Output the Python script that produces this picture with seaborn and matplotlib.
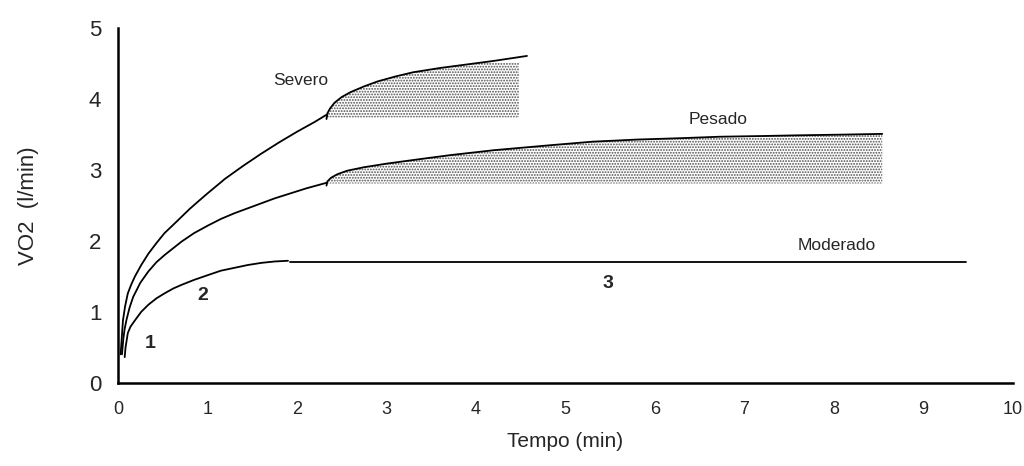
import pandas as pd
import seaborn as sns
from matplotlib import pyplot as plt

# curva de subida (fase 1-2)
sev_x = [0.03, 0.045, 0.056, 0.08, 0.11, 0.15, 0.19, 0.26, 0.34, 0.43, 0.52, 0.62, 0.71, 0.8, 0.89,
         1.0, 1.2, 1.4, 1.6, 1.8, 2.0, 2.2, 2.33]
sev_y = [0.40, 0.68, 0.88, 1.08, 1.26, 1.39, 1.50, 1.66, 1.82, 1.97, 2.11, 2.23, 2.34, 2.45, 2.55,
         2.67, 2.88, 3.06, 3.23, 3.39, 3.54, 3.68, 3.78]
pes_x = [0.045, 0.06, 0.075, 0.094, 0.13, 0.17, 0.25, 0.34, 0.43, 0.52, 0.62, 0.71, 0.85,
         1.01, 1.15, 1.3, 1.45, 1.6, 1.75, 1.9, 2.1, 2.33]
pes_y = [0.40, 0.62, 0.76, 0.88, 1.06, 1.21, 1.41, 1.57, 1.70, 1.80, 1.90, 1.99, 2.11,
         2.22, 2.31, 2.39, 2.46, 2.53, 2.60, 2.66, 2.74, 2.82]
mod_x = [0.075, 0.085, 0.1, 0.11, 0.14, 0.19, 0.26, 0.34, 0.43, 0.52, 0.62, 0.71, 0.85,
         1.01, 1.15, 1.3, 1.45, 1.6, 1.75, 1.9]
mod_y = [0.36, 0.50, 0.62, 0.70, 0.79, 0.88, 1.00, 1.10, 1.19, 1.26, 1.33, 1.38, 1.45,
         1.52, 1.58, 1.62, 1.66, 1.69, 1.71, 1.72]

# componente lenta (fase 3)
sev_slow_x = [2.33, 2.34, 2.37, 2.42, 2.5, 2.6, 2.75, 2.9, 3.1, 3.3, 3.6, 3.9, 4.2, 4.57]
sev_slow_y = [3.72, 3.80, 3.87, 3.95, 4.03, 4.10, 4.18, 4.25, 4.32, 4.38, 4.44, 4.49, 4.54, 4.61]
pes_slow_x = [2.33, 2.34, 2.38, 2.45, 2.56, 2.75, 3.0, 3.35, 3.71, 4.2, 4.83, 5.3, 5.8, 6.3,
              6.72, 7.2, 7.6, 8.1, 8.54]
pes_slow_y = [2.78, 2.84, 2.89, 2.94, 2.99, 3.04, 3.09, 3.15, 3.21, 3.28, 3.35, 3.40, 3.43, 3.45,
              3.47, 3.48, 3.49, 3.50, 3.51]
mod_flat_x = [1.92, 9.47]
mod_flat_y = [1.70, 1.70]

# areas sombreadas
sev_fill_x = [2.33, 2.34, 2.37, 2.42, 2.5, 2.6, 2.75, 2.9, 3.1, 3.3, 3.6, 3.9, 4.1, 4.48]
sev_fill_top = [3.72, 3.80, 3.87, 3.95, 4.03, 4.10, 4.18, 4.25, 4.32, 4.38, 4.44, 4.49, 4.52, 4.52]
sev_fill_base = 3.74
pes_fill_x = pes_slow_x
pes_fill_top = pes_slow_y
pes_fill_base = 2.81

labels = [('Severo', 2.04, 4.26, 'normal'), ('Pesado', 6.71, 3.71, 'normal'),
          ('Moderado', 8.03, 1.94, 'normal'), ('1', 0.36, 0.55, 'bold'),
          ('2', 0.95, 1.23, 'bold'), ('3', 5.47, 1.40, 'bold')]

if __name__ == '__main__':
    sns.set_style('white')
    plt.rcParams['font.family'] = ['Liberation Sans', 'DejaVu Sans']
    plt.rcParams['hatch.linewidth'] = 0.9

    fig = plt.figure(figsize=(10.24, 4.66), dpi=100)
    ax = fig.add_axes([0.1152, 0.1788, 0.8740, 0.7605])

    ax.fill_between(sev_fill_x, sev_fill_base, sev_fill_top, facecolor='white',
                    edgecolor='#505050', hatch='......', linewidth=0)
    ax.fill_between(pes_fill_x, pes_fill_base, pes_fill_top, facecolor='white',
                    edgecolor='#505050', hatch='......', linewidth=0)

    for xs, ys in [(sev_x, sev_y), (pes_x, pes_y), (mod_x, mod_y),
                   (sev_slow_x, sev_slow_y), (pes_slow_x, pes_slow_y),
                   (mod_flat_x, mod_flat_y)]:
        df = pd.DataFrame({'x': xs, 'y': ys})
        sns.lineplot(data=df, x='x', y='y', sort=False, estimator=None,
                     color='black', linewidth=1.3, ax=ax)

    for txt, x, y, w in labels:
        ax.text(x, y, txt, ha='center', va='center',
                fontsize=14 if w == 'bold' else 12.5, fontweight=w)

    ax.set_xlim(0, 10)
    ax.set_ylim(0, 5)
    ax.set_xticks(range(0, 11))
    ax.set_yticks(range(0, 6))
    ax.tick_params(axis='x', labelsize=13, length=5, width=1.5, direction='out', pad=8)
    ax.tick_params(axis='y', labelsize=16, length=7, width=1.5, direction='out', pad=5)
    ax.set_xlabel('Tempo (min)', fontsize=15, labelpad=10)
    ax.set_ylabel('VO2  (l/min)', fontsize=16, labelpad=36)
    sns.despine(ax=ax)
    for s in ['left', 'bottom']:
        ax.spines[s].set_linewidth(1.8)
        ax.spines[s].set_color('black')

    plt.savefig('out.png', dpi=100)
